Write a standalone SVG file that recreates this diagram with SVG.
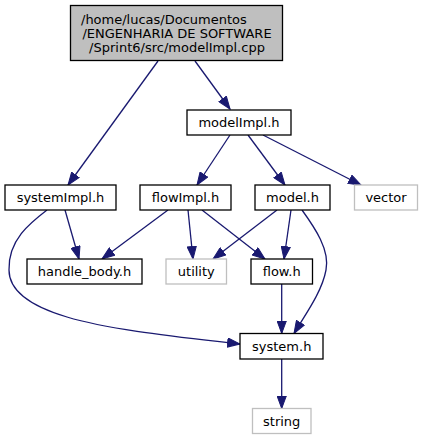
<svg xmlns="http://www.w3.org/2000/svg" width="423" height="440" viewBox="0 0 423 440">
<style>
.n rect{fill:#ffffff;stroke:#000000;stroke-width:1.3}
.n.g rect{stroke:#bfbfbf}
.n.r rect{fill:#bfbfbf}
text{font-family:"DejaVu Sans",sans-serif;font-size:13px;fill:#000000;text-anchor:middle}
#edges path{fill:none;stroke:#191970;stroke-width:1.3;marker-end:url(#a)}
</style>
<defs>
<marker id="a" markerUnits="userSpaceOnUse" markerWidth="14" markerHeight="10" viewBox="0 0 14 10" refX="13" refY="5" orient="auto">
<path d="M0.5,0.4 L13,5 L0.5,9.6 z" fill="#191970" stroke="#191970" stroke-width="1"/>
</marker>
</defs>
<g id="edges">
<path d="M195,61 L230,109"/>
<path d="M158,61 L68,185"/>
<path d="M230,135 L197,185"/>
<path d="M248,135 L285,185"/>
<path d="M263,135 L361,185"/>
<path d="M65,210 L79,259"/>
<path d="M47,210 C30,223 8,240 9,270 C9,290 30,306 67,317 C110,330 180,337 240,344"/>
<path d="M168,210 L102,259"/>
<path d="M188,210 L193,259"/>
<path d="M202,210 L265,259"/>
<path d="M277,210 L213,259"/>
<path d="M291,210 L284,259"/>
<path d="M302,210 C315,228 330,250 326,270 C322,292 305,315 294,333.5"/>
<path d="M281.7,284 L281.7,333.5"/>
<path d="M281.7,359 L281.7,408.5"/>
</g>
<g id="root" class="n r">
<rect x="70.5" y="5.5" width="212" height="55"/>
<text x="81" y="23.5" style="text-anchor:start">/home/lucas/Documentos</text>
<text x="177" y="37.5">/ENGENHARIA DE SOFTWARE</text>
<text x="177" y="51.5">/Sprint6/src/modelImpl.cpp</text>
</g>
<g id="modelImpl" class="n">
<rect x="187" y="110" width="104" height="25"/>
<text x="239" y="127">modelImpl.h</text>
</g>
<g id="systemImpl" class="n">
<rect x="5" y="185" width="111" height="25"/>
<text x="60.5" y="202">systemImpl.h</text>
</g>
<g id="flowImpl" class="n">
<rect x="140" y="185" width="91" height="25"/>
<text x="185.5" y="202">flowImpl.h</text>
</g>
<g id="model" class="n">
<rect x="255" y="185" width="75" height="25"/>
<text x="292.5" y="202">model.h</text>
</g>
<g id="vector" class="n g">
<rect x="354.5" y="185" width="63" height="25"/>
<text x="386" y="202">vector</text>
</g>
<g id="handle_body" class="n">
<rect x="27" y="259" width="115" height="25"/>
<text x="84.5" y="276">handle_body.h</text>
</g>
<g id="utility" class="n g">
<rect x="166" y="259" width="60.5" height="25"/>
<text x="196.3" y="276">utility</text>
</g>
<g id="flow" class="n">
<rect x="251" y="259" width="61.5" height="25"/>
<text x="281.7" y="276">flow.h</text>
</g>
<g id="system" class="n">
<rect x="240" y="333.5" width="83" height="25.5"/>
<text x="281.7" y="351">system.h</text>
</g>
<g id="string" class="n g">
<rect x="252.5" y="408.5" width="58.5" height="25"/>
<text x="281.7" y="425.5">string</text>
</g>
</svg>
